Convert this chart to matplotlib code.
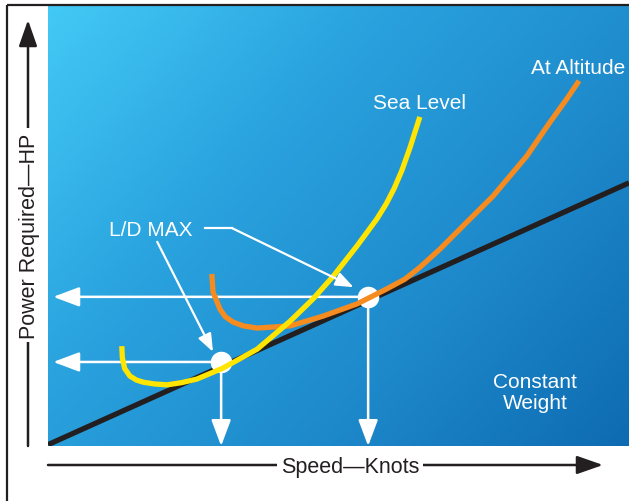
"""Power required vs speed, sea level and altitude."""
import numpy as np
import matplotlib.pyplot as plt
from matplotlib.colors import LinearSegmentedColormap
from matplotlib.patches import Rectangle

plt.rcParams['font.family'] = ['Liberation Sans', 'DejaVu Sans']

# Values (speed and power in relative units 0-100)
weight_speed = [0, 100]
weight_power = [0.3, 59.8]

sea_speed = [12.7, 12.8, 13.2, 14.1, 15.2, 16.4, 18.3, 20.5, 23.0, 25.6, 30.1,
             36.0, 41.7, 45.6, 49.1, 53.2, 56.6, 58.2, 59.6, 60.9, 62.3, 64.0]
sea_power = [22.7, 20.0, 17.6, 15.9, 15.0, 14.5, 14.1, 13.9, 14.4, 15.2, 17.7,
             22.0, 28.4, 33.4, 38.6, 45.5, 51.6, 55.0, 58.6, 62.6, 67.8, 74.8]

alt_speed = [28.2, 28.4, 29.6, 30.5, 31.8, 33.6, 36.0, 41.7, 47.3, 53.2, 58.3,
             61.4, 64.0, 67.5, 72.1, 76.6, 82.4, 86.4, 89.3, 91.4]
alt_power = [39.1, 35.0, 31.1, 29.4, 28.2, 27.3, 26.8, 27.3, 29.5, 32.3, 35.7,
             37.9, 40.6, 44.8, 50.9, 56.8, 65.9, 73.6, 78.9, 83.0]

ld_speed = [29.8, 55.1]
ld_power = [19.1, 33.9]

W, H = 629, 502
fig = plt.figure(figsize=(W / 100, H / 100), dpi=100)

# Panel with the curves
ax = fig.add_axes([48 / W, 55 / H, 581 / W, 440 / H], zorder=1)
ax.set_xlim(0, 100)
ax.set_ylim(0, 100)
ax.axis('off')

cmap = LinearSegmentedColormap.from_list(
    'panel', ['#43C9F5', '#2AA3DF', '#1E8ACB', '#0E6BB2'])
gx, gy = np.meshgrid(np.linspace(0, 1, 300), np.linspace(0, 1, 240))
ax.imshow(0.6 * gx + 0.4 * gy, cmap=cmap, extent=[0, 100, 0, 100],
          aspect='auto', zorder=0, vmin=0, vmax=1)

ax.plot(weight_speed, weight_power, color='#231F20', lw=3.8,
        solid_capstyle='butt', zorder=2)
ax.plot(ld_speed, ld_power, 'o', ms=14.5, color='white', zorder=3)

big_head = dict(arrowstyle='-|>,head_length=0.8,head_width=0.3', color='white',
                lw=1.8, mutation_scale=20, shrinkA=0, shrinkB=0)
for s, p in zip(ld_speed, ld_power):
    ax.annotate('', xy=(0.9, p), xytext=(s, p), arrowprops=big_head, zorder=2.5)
    ax.annotate('', xy=(s, 0), xytext=(s, p), arrowprops=big_head, zorder=2.5)

ax.plot(alt_speed, alt_power, color='#F68B1F', lw=3.8,
        solid_capstyle='butt', zorder=4)
ax.plot(sea_speed, sea_power, color='#FFE500', lw=3.8,
        solid_capstyle='butt', zorder=5)

# L/D MAX callout
small_head = dict(arrowstyle='-|>,head_length=0.9,head_width=0.35', color='white',
                  lw=1.6, mutation_scale=12, shrinkA=0, shrinkB=0)
ax.text(17.6, 49.3, 'L/D MAX', color='white', fontsize=15,
        ha='center', va='center', zorder=6)
ax.plot([27.0, 31.7], [49.5, 49.5], color='white', lw=1.6, zorder=6)
ax.annotate('', xy=(52.6, 36.1), xytext=(31.7, 49.5), arrowprops=small_head, zorder=6)
ax.annotate('', xy=(28.4, 21.4), xytext=(18.8, 46.4), arrowprops=small_head, zorder=6)

ax.text(64.0, 78.0, 'Sea Level', color='white', fontsize=15,
        ha='center', va='center', zorder=6)
ax.text(91.2, 86.1, 'At Altitude', color='white', fontsize=15,
        ha='center', va='center', zorder=6)
ax.text(83.8, 12.3, 'Constant\nWeight', color='white', fontsize=15,
        ha='center', va='center', linespacing=1.15, zorder=6)

# Frame, axis arrows and labels (pixel coordinates, y downward)
deco = fig.add_axes([0, 0, 1, 1], zorder=2)
deco.set_xlim(0, W)
deco.set_ylim(H, 0)
deco.axis('off')

deco.add_patch(Rectangle((7, 6), W, H, fill=False, ec='#231F20', lw=1.6))

axis_head = dict(arrowstyle='-|>,head_length=0.8,head_width=0.28', color='#231F20',
                 lw=1.8, mutation_scale=20, shrinkA=0, shrinkB=0)
deco.annotate('', xy=(28, 21), xytext=(28, 447), arrowprops=axis_head)
deco.annotate('', xy=(603, 466), xytext=(48, 466), arrowprops=axis_head)

deco.text(29.5, 236, 'Power Required\u2014HP', rotation=90, fontsize=15.5,
          color='#231F20', ha='center', va='center', zorder=5,
          bbox=dict(fc='white', ec='none', pad=3))
deco.text(350, 473, 'Speed\u2014Knots', fontsize=15.5, color='#231F20',
          ha='center', va='baseline', zorder=5,
          bbox=dict(fc='white', ec='none', pad=3))

fig.savefig('out.png', dpi=100)
